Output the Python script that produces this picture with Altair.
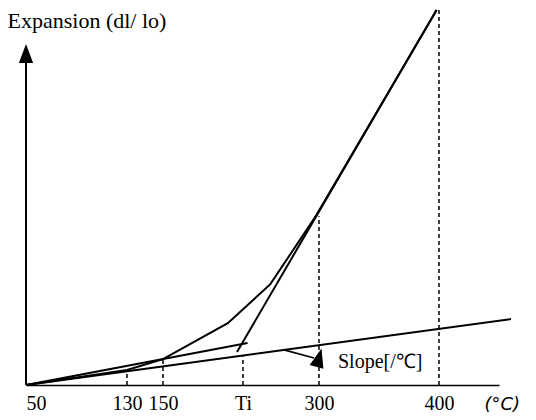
import altair as alt
import pandas as pd

# ---- data (temperature in deg C, expansion in arbitrary units) ----
curve_T = [50, 130, 150, 231, 268, 298, 398]
curve_E = [0, 4.0, 6.9, 16.5, 26.9, 45.1, 100]
steep_T = [242.5, 398]
steep_E = [8.8, 100]
low_T = [50, 460]
low_E = [0, 17.6]
mid_T = [50, 253]
mid_E = [0, 11.2]
arrow_T = [277.6, 296.7]
arrow_E = [9.3, 7.2]

drop_T = [130, 150, 250, 300, 400]
drop_E = [4.0, 6.9, 7.9, 45.0, 100]

tick_values = [50, 130, 150, 250, 300, 400]
tick_labels = ["50", "130", "150", "Ti", "300", "400"]

yaxis_top = 88.0
head_T = [50, 300]
head_E = [88.4, 7.3]

slope_label = "Slope[/℃]"
slope_T = [315.8]
slope_E = [6.1]

# schematic (non-uniform) temperature axis
x_domain = [50, 130, 150, 250, 300, 400, 450]
x_range = [0, 101, 137, 217, 293, 413, 473]

# ---- tables ----
rows = []
for name, ts, es, w in [("curve", curve_T, curve_E, 2.0), ("steep", steep_T, steep_E, 2.0),
                        ("low", low_T, low_E, 2.0), ("mid", mid_T, mid_E, 1.8),
                        ("arrow", arrow_T, arrow_E, 1.6)]:
    for i, (t, e) in enumerate(zip(ts, es)):
        rows.append({"series": name, "T": t, "E": e, "i": i, "w": w})
lines_df = pd.DataFrame(rows)
drops_df = pd.DataFrame({"T": drop_T, "E0": [0] * len(drop_T), "E": drop_E})
yaxis_df = pd.DataFrame({"T": [50], "E0": [0], "E": [yaxis_top]})
head_df = pd.DataFrame({"T": head_T, "E": head_E, "ang": [0, 15]})
text_df = pd.DataFrame({"T": slope_T, "E": slope_E, "label": [slope_label]})

expr = "datum.label"
for v, l in zip(tick_values, tick_labels):
    expr = f"datum.value == {v} ? '{l}' : (" + expr + ")"

serif = "Liberation Serif"
xs = alt.Scale(domain=x_domain, range=x_range, nice=False, zero=False)
ys = alt.Scale(domain=[0, 100], nice=False, zero=False)

xaxis = alt.Axis(
    values=tick_values, labelExpr=expr, ticks=False, grid=False,
    domainColor="black", domainWidth=1.6,
    labelFont=serif, labelFontSize=20, labelColor="black", labelPadding=8,
    labelOverlap=False, labelBound=False,
    labelAlign={"condition": {"test": "datum.value == 50", "value": "left"}, "value": "center"},
    title="(°C)", titleX=458, titleY=19, titleAlign="left", titleBaseline="middle",
    titleFont="DejaVu Sans", titleFontSize=18, titleFontWeight="normal",
    titleFontStyle="italic", titleColor="black",
)
yaxis = alt.Axis(
    domain=False, ticks=False, labels=False, grid=False,
    title="Expansion (dl/ lo)", titleAngle=0, titleX=-19, titleY=17,
    titleAlign="left", titleBaseline="alphabetic", titleFont=serif,
    titleFontSize=22, titleFontWeight="normal", titleColor="black",
)


def X(field="T"):
    return alt.X(f"{field}:Q", scale=xs, axis=xaxis)


def Y(field="E"):
    return alt.Y(f"{field}:Q", scale=ys, axis=yaxis)


lines = alt.Chart(lines_df).mark_line(color="black").encode(
    x=X(), y=Y(), detail="series:N", order="i:Q",
    strokeWidth=alt.StrokeWidth("w:Q", scale=None),
)

drops = alt.Chart(drops_df).mark_rule(color="black", strokeDash=[4, 3], strokeWidth=1.5).encode(
    x=X(), y=Y("E0"), y2="E:Q",
)

yline = alt.Chart(yaxis_df).mark_rule(color="black", strokeWidth=2).encode(
    x=X(), y=Y("E0"), y2="E:Q",
)

heads = alt.Chart(head_df).mark_point(
    shape="M0,-1L0.75,1L-0.75,1Z", filled=True, color="black", opacity=1, size=361,
).encode(x=X(), y=Y(), angle=alt.Angle("ang:Q", scale=None))

texts = alt.Chart(text_df).mark_text(
    align="left", baseline="middle", font=serif, fontSize=20, color="black",
).encode(x=X(), y=Y(), text="label:N")

chart = alt.layer(drops, yline, lines, heads, texts).properties(
    width=473, height=375,
    padding={"left": 18, "top": 2, "right": 29, "bottom": 27},
    autosize="none", background="white",
).configure_view(stroke=None)

chart.save("out.html", embed_options={"renderer": "svg", "actions": False})
